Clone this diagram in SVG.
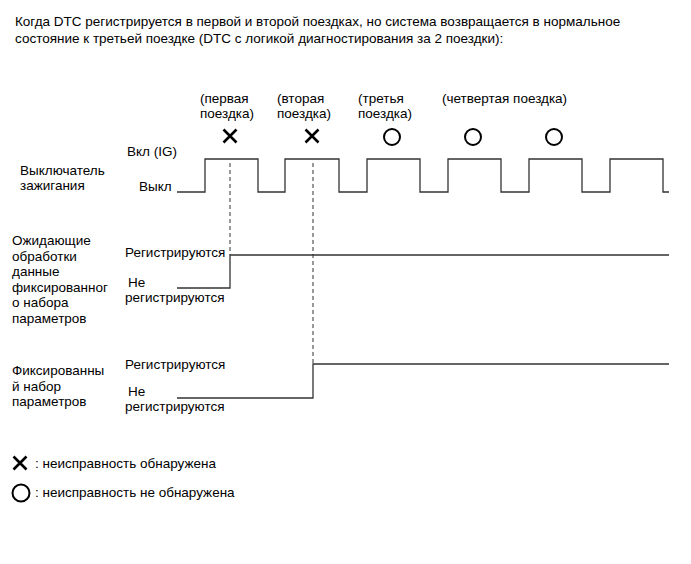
<svg xmlns="http://www.w3.org/2000/svg" width="691" height="564" viewBox="0 0 691 564">
<style>
text{font-family:"Liberation Sans",Arial,sans-serif;font-size:13.5px;fill:#000}
.w{fill:none;stroke:#333;stroke-width:1.3}
.d{fill:none;stroke:#333;stroke-width:1;stroke-dasharray:4 3}
.x{stroke:#000;stroke-width:2.6;fill:none}
.o{stroke:#000;stroke-width:2;fill:none}
</style>
<rect width="691" height="564" fill="#fff"/>
<g id="title">
<text x="15" y="26">Когда DTC регистрируется в первой и второй поездках, но система возвращается в нормальное</text>
<text x="15" y="43">состояние к третьей поездке (DTC с логикой диагностирования за 2 поездки):</text>
</g>
<g id="trip-labels">
<text x="200" y="103">(первая</text><text x="200" y="118">поездка)</text>
<text x="277" y="103">(вторая</text><text x="277" y="118">поездка)</text>
<text x="358" y="103">(третья</text><text x="358" y="118">поездка)</text>
<text x="442" y="103">(четвертая поездка)</text>
</g>
<g id="marks">
<path class="x" d="M223.5,129.5 l13,13 M236.5,129.5 l-13,13"/>
<path class="x" d="M305.5,129.5 l13,13 M318.5,129.5 l-13,13"/>
<circle class="o" cx="392" cy="137" r="8"/>
<circle class="o" cx="473" cy="137" r="8"/>
<circle class="o" cx="554" cy="137" r="8"/>
</g>
<g id="ignition">
<text x="20" y="175">Выключатель</text>
<text x="20" y="190">зажигания</text>
<text x="127" y="156">Вкл (IG)</text>
<text x="139" y="191">Выкл</text>
</g>
<g id="pending">
<text x="12" y="245">Ожидающие</text>
<text x="12" y="260.5">обработки</text>
<text x="12" y="276">данные</text>
<text x="12" y="291.5">фиксированног</text>
<text x="12" y="307">о набора</text>
<text x="12" y="322.5">параметров</text>
<text x="125" y="257">Регистрируются</text>
<text x="128" y="287">Не</text>
<text x="125" y="302">регистрируются</text>
</g>
<g id="freeze">
<text x="12" y="375">Фиксированны</text>
<text x="12" y="391">й набор</text>
<text x="12" y="406">параметров</text>
<text x="125" y="369">Регистрируются</text>
<text x="128" y="396">Не</text>
<text x="125" y="411">регистрируются</text>
</g>
<g id="connectors">
<path class="w" d="M177,192 H205 V159 H258 V192 H285 V159 H339 V192 H367 V159 H420 V192 H448 V159 H501 V192 H529 V159 H582 V192 H610 V159 H663 V192 H669"/>
<path class="d" d="M230,163 V255"/>
<path class="d" d="M313,163 V364"/>
<path class="w" d="M177,288 H230 V255 H669"/>
<path class="w" d="M177,398 H313 V364 H669"/>
</g>
<g id="legend">
<path class="x" d="M13.5,456.5 l13,13 M26.5,456.5 l-13,13"/>
<text x="35" y="468">: неисправность обнаружена</text>
<circle class="o" cx="21" cy="493" r="8.5"/>
<text x="35" y="497">: неисправность не обнаружена</text>
</g>
</svg>
